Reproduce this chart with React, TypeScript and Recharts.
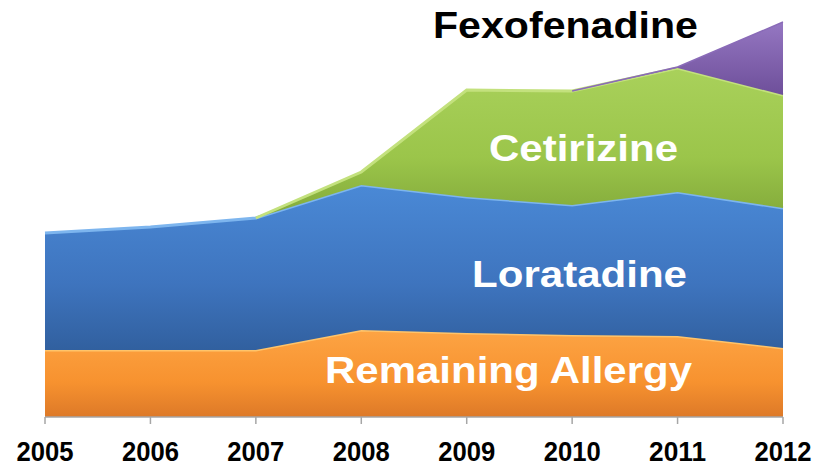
import { AreaChart, Area, XAxis, YAxis } from 'recharts';

const years = ['2005', '2006', '2007', '2008', '2009', '2010', '2011', '2012'];
const remaining = [67, 67, 67, 87, 84, 82, 81, 69];
const loratadine = [117, 123, 132, 145, 136, 130, 144, 140];
// no value before the product shows up
const cetirizine = [null, null, 0, 13, 107, 114, 124, 113];
const fexofenadine = [null, null, null, null, null, 0, 1, 73];

const data = years.map((year, i) => ({
  year,
  remaining: remaining[i],
  loratadine: loratadine[i],
  cetirizine: cetirizine[i],
  fexofenadine: fexofenadine[i],
}));

const W = 817;
const H = 469;
const FONT = '"Liberation Sans", Arial, sans-serif';

// tick labels in the picture are bold and a bit condensed
function YearTick({ x, y, payload }: any) {
  return (
    <text
      x={x}
      y={y + 35}
      textAnchor="middle"
      fontFamily={FONT}
      fontWeight="bold"
      fontSize={27}
      fill="#000"
      textLength={57}
      lengthAdjust="spacingAndGlyphs"
    >
      {payload.value}
    </text>
  );
}

// series names written inside the bands
const labels = [
  { text: 'Fexofenadine', x: 433, y: 38, w: 265, fill: '#000' },
  { text: 'Cetirizine', x: 489, y: 161, w: 189, fill: '#fff' },
  { text: 'Loratadine', x: 472, y: 287, w: 215, fill: '#fff' },
  { text: 'Remaining Allergy', x: 325, y: 383, w: 367, fill: '#fff' },
];

export default function App() {
  return (
    <div style={{ position: 'absolute', left: 0, top: 0, width: W, height: H }}>
      <AreaChart
        width={W}
        height={H}
        data={data}
        margin={{ top: 17, right: 34, bottom: 22, left: 45 }}
      >
        <defs>
          <linearGradient id="gOrange" x1="0" y1="0" x2="0" y2="1">
            <stop offset="0%" stopColor="#FDA444" />
            <stop offset="60%" stopColor="#F7922F" />
            <stop offset="100%" stopColor="#DD7928" />
          </linearGradient>
          <linearGradient id="gBlue" x1="0" y1="0" x2="0" y2="1">
            <stop offset="0%" stopColor="#4A89D6" />
            <stop offset="60%" stopColor="#3E74BE" />
            <stop offset="100%" stopColor="#31609F" />
          </linearGradient>
          <linearGradient id="gGreen" x1="0" y1="0" x2="0" y2="1">
            <stop offset="0%" stopColor="#A9D15B" />
            <stop offset="60%" stopColor="#9BC54A" />
            <stop offset="100%" stopColor="#82A93A" />
          </linearGradient>
          <linearGradient id="gPurple" x1="0" y1="0" x2="0" y2="1">
            <stop offset="0%" stopColor="#9577C2" />
            <stop offset="100%" stopColor="#6E4F9A" />
          </linearGradient>
        </defs>
        <XAxis
          dataKey="year"
          height={30}
          tickSize={7}
          tickMargin={2}
          interval={0}
          axisLine={{ stroke: '#A6A6A6', strokeWidth: 1.5 }}
          tickLine={{ stroke: '#A6A6A6', strokeWidth: 1.5 }}
          tick={<YearTick />}
        />
        <YAxis hide domain={[0, 400]} />
        <Area
          type="linear"
          dataKey="remaining"
          stackId="a"
          fill="url(#gOrange)"
          fillOpacity={1}
          stroke="#FFC46A"
          strokeWidth={3}
          isAnimationActive={false}
        />
        <Area
          type="linear"
          dataKey="loratadine"
          stackId="a"
          fill="url(#gBlue)"
          fillOpacity={1}
          stroke="#7DB5EE"
          strokeWidth={3}
          isAnimationActive={false}
        />
        <Area
          type="linear"
          dataKey="cetirizine"
          stackId="a"
          fill="url(#gGreen)"
          fillOpacity={1}
          stroke="#C3E17D"
          strokeWidth={3}
          isAnimationActive={false}
        />
        <Area
          type="linear"
          dataKey="fexofenadine"
          stackId="a"
          fill="url(#gPurple)"
          fillOpacity={1}
          stroke="#8A6BB8"
          strokeWidth={1.5}
          isAnimationActive={false}
        />
      </AreaChart>
      <svg
        width={W}
        height={H}
        style={{ position: 'absolute', left: 0, top: 0, pointerEvents: 'none' }}
      >
        {labels.map((l) => (
          <text
            key={l.text}
            x={l.x}
            y={l.y}
            fontFamily={FONT}
            fontWeight="bold"
            fontSize={36}
            fill={l.fill}
            textLength={l.w}
            lengthAdjust="spacingAndGlyphs"
          >
            {l.text}
          </text>
        ))}
      </svg>
    </div>
  );
}
